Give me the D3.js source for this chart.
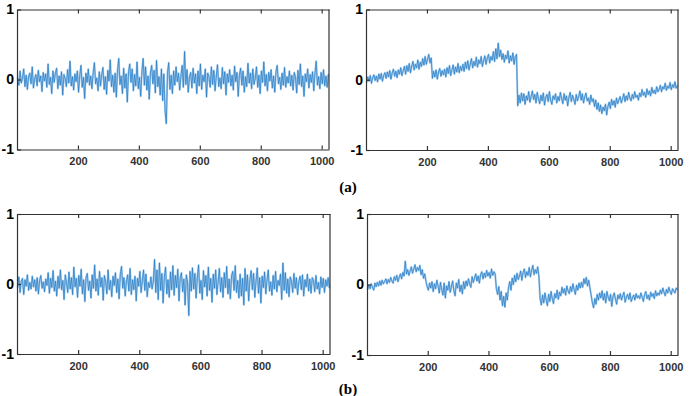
<!DOCTYPE html>
<html>
<head>
<meta charset="utf-8">
<script src="https://cdn.jsdelivr.net/npm/d3@7"></script>
<style>
  html, body { margin: 0; padding: 0; background: #fff; }
  svg { display: block; }
</style>
</head>
<body>
<div id="chart"></div>
<script>
// samples every 4 points of a 1024-long signal
const seriesA1 = [
  .03,-.08,.12,-.05,.02,.15,-.1,.06,-.14,.04,.09,-.06,.18,-.12,.01,.07,
  -.09,.13,-.03,.05,-.17,.1,-.02,.08,-.11,.22,-.07,.03,-.2,.12,-.04,.09,
  .16,-.13,.05,-.08,.11,-.22,.07,.02,-.1,.14,-.05,.26,-.09,.04,-.15,.08,
  -.03,.12,-.18,.06,.2,-.11,.03,-.27,.09,-.04,.15,-.08,.05,-.13,.1,.24,
  -.06,.02,-.16,.11,-.09,.07,.17,-.14,.04,-.21,.13,-.02,.28,-.1,.06,-.18,
  .09,-.25,.14,.3,-.07,.05,-.2,.16,-.12,.08,-.32,.11,.22,-.04,.15,-.16,
  .07,-.09,.25,-.13,.03,-.24,.12,.3,-.08,.18,-.15,.05,-.28,.1,.2,-.06,
  .13,-.19,.27,-.1,.04,-.22,.15,-.3,.08,-.45,-.63,.1,.24,-.14,.06,-.2,
  .12,-.08,.18,-.03,.09,-.15,.05,.2,-.11,.4,-.07,.14,-.18,.03,.1,-.12,
  .16,-.05,.08,-.2,.12,-.09,.22,-.14,.06,-.03,.15,-.25,.09,.04,-.11,.18,
  -.07,.13,-.16,.05,.21,-.1,.02,-.13,.17,-.06,.11,-.22,.08,-.04,.14,-.09,
  .06,-.15,.19,-.03,.1,-.24,.07,.16,-.08,.12,-.18,.04,-.1,.23,-.05,.09,
  -.13,.15,-.07,.02,.18,-.11,.06,-.2,.12,-.04,.25,-.09,.07,-.16,.1,-.02,
  .14,-.12,.05,-.18,.11,.2,-.06,.03,-.14,.09,-.08,.17,-.11,.04,-.05,.12,
  -.09,.06,-.15,.1,.03,-.19,.13,-.07,.22,-.1,.05,-.24,.08,-.03,.15,-.12,
  .07,-.04,.11,-.16,.09,.26,-.08,.04,-.13,.1,-.06,.14,-.09,.05,-.11,.08
];
const seriesA2 = [
  -.04,.04,-.02,.06,-.05,.03,.07,-.01,.05,-.03,.08,.01,.09,-.02,.06,.1,
  .02,.11,.04,.13,.01,.1,.15,.05,.12,.03,.14,.08,.17,.06,.13,.19,
  .08,.2,.12,.23,.1,.19,.26,.14,.22,.17,.28,.15,.25,.19,.3,.21,
  .33,.22,.29,.36,.24,.31,.02,.12,.04,.14,.01,.11,.16,.05,.13,.07,
  .15,.04,.17,.09,.2,.06,.14,.21,.08,.18,.11,.23,.1,.19,.13,.22,
  .12,.25,.16,.27,.14,.22,.3,.17,.26,.2,.32,.18,.28,.23,.33,.19,
  .27,.34,.22,.31,.36,.24,.33,.28,.4,.26,.44,.3,.52,.33,.42,.29,
  .37,.25,.35,.3,.41,.24,.34,.27,.38,.22,.33,.36,-.37,-.22,-.33,-.19,
  -.3,-.2,-.35,-.23,-.29,-.17,-.32,-.24,-.16,-.28,-.21,-.33,-.18,-.27,-.34,-.22,
  -.3,-.19,-.36,-.25,-.21,-.31,-.17,-.29,-.35,-.23,-.28,-.2,-.33,-.24,-.3,-.18,
  -.27,-.34,-.2,-.29,-.23,-.37,-.25,-.18,-.31,-.22,-.28,-.35,-.21,-.3,-.24,-.16,
  -.29,-.2,-.33,-.24,-.19,-.3,-.26,-.35,-.22,-.31,-.27,-.38,-.29,-.42,-.33,-.45,
  -.36,-.48,-.39,-.44,-.35,-.5,-.38,-.32,-.41,-.28,-.36,-.3,-.39,-.26,-.34,-.29,
  -.24,-.33,-.27,-.2,-.31,-.23,-.29,-.18,-.26,-.3,-.21,-.27,-.17,-.25,-.22,-.29,
  -.19,-.24,-.14,-.22,-.18,-.25,-.13,-.21,-.16,-.23,-.11,-.19,-.15,-.2,-.1,-.17,
  -.14,-.08,-.17,-.1,-.13,-.05,-.15,-.09,-.12,-.04,-.14,-.07,-.11,-.03,-.12,-.08
];
const seriesB1 = [
  -.05,.1,-.12,.04,.08,-.15,.06,-.03,.13,-.09,.02,-.07,.11,-.04,.06,-.1,
  .09,-.14,.05,.12,-.06,.03,-.11,.07,-.02,.16,-.13,.08,-.05,.19,-.1,.04,
  -.17,.11,-.06,.2,-.08,.05,-.22,.13,.02,-.12,.17,-.07,.09,-.15,.24,-.04,
  .08,-.19,.12,-.03,.21,-.14,.06,-.25,.1,.15,-.09,.04,-.2,.13,-.06,.27,
  -.1,.07,-.16,.18,-.04,.09,-.23,.12,.03,-.14,.2,-.08,.05,-.18,.11,-.02,
  .16,-.12,.07,-.21,.14,.25,-.06,.09,-.17,.04,.13,-.1,.22,-.15,.06,-.08,
  .11,-.24,.08,-.03,.18,-.12,.05,.2,-.09,.14,-.18,.02,-.05,.1,-.07,.04,
  .35,-.12,.2,-.22,.3,-.09,.15,-.27,.1,.24,-.14,.06,-.19,.17,-.08,.26,
  -.16,.12,-.05,.21,-.24,.09,.16,-.11,.07,-.3,.13,.02,-.45,.18,-.1,.23,
  -.07,.15,-.2,.1,.27,-.13,.05,-.22,.19,-.04,.12,-.17,.24,-.09,.08,-.26,
  .14,-.06,.2,-.15,.03,.22,-.11,.09,-.19,.16,-.05,.25,-.14,.07,-.21,.12,
  .18,-.09,.26,-.12,.05,-.2,.14,-.17,.08,-.3,.22,-.1,.13,-.24,.06,.19,
  -.08,.15,-.19,.04,.23,-.13,.09,-.27,.11,-.05,.17,-.14,.06,.2,-.1,.03,
  -.16,.12,-.07,.18,-.11,.05,-.02,.14,-.22,.3,-.09,.16,-.13,.07,-.18,.1,
  .04,-.12,.15,-.06,.09,-.15,.03,.11,-.08,.13,-.17,.06,-.04,.14,-.1,.07,
  -.13,.09,.05,-.11,.12,-.07,.02,-.14,.1,-.05,.08,-.12,.06,-.03,.09,-.06
];
const seriesB2 = [
  -.07,-.01,-.06,.01,-.04,-.08,.02,-.03,.03,-.02,.05,-.01,.06,.01,.04,.08,
  .01,.07,.03,.1,.05,.02,.11,.06,.13,.04,.1,.15,.08,.17,.12,.33,
  .15,.21,.13,.19,.25,.16,.22,.28,.18,.24,.2,.27,.14,.21,.09,.15,
  .05,-.03,-.08,.02,-.05,.04,-.1,.01,-.06,.06,-.02,-.12,.03,-.07,-.15,.02,
  -.19,-.02,-.08,.04,-.11,-.03,.05,-.09,-.16,.02,-.05,.07,-.1,-.01,-.13,.04,
  -.06,.05,-.02,.08,.01,-.04,.11,.03,.09,.15,.05,.12,.02,.14,.18,.08,
  .16,.1,.2,.12,.17,.09,.22,.13,.18,.15,-.06,-.14,-.03,-.22,-.1,-.3,
  -.17,-.32,-.12,-.22,-.04,.04,-.08,.09,0,.13,.04,.16,.07,.12,.19,.06,
  .17,.22,.1,.18,.13,.24,.11,.2,.27,.14,.21,.16,.25,.12,-.2,-.29,
  -.15,-.26,-.12,-.22,-.3,-.14,-.24,-.1,-.2,-.27,-.13,-.19,-.08,-.21,-.11,-.16,
  -.04,-.12,-.06,-.15,-.02,-.09,-.13,-.03,-.1,.01,-.07,-.14,-.01,-.08,.02,-.05,
  .03,-.04,.08,.01,.1,-.02,.06,-.05,-.15,-.26,-.33,-.2,-.28,-.14,-.22,-.12,
  -.19,-.09,-.22,-.13,-.26,-.1,-.18,-.23,-.14,-.31,-.17,-.12,-.21,-.28,-.15,-.2,
  -.13,-.22,-.16,-.11,-.25,-.18,-.14,-.21,-.12,-.24,-.19,-.15,-.22,-.13,-.19,-.16,
  -.2,-.12,-.18,-.24,-.14,-.1,-.2,-.15,-.22,-.11,-.17,-.13,-.2,-.09,-.16,-.12,
  -.15,-.08,-.13,-.05,-.11,-.16,-.07,-.12,-.04,-.1,-.14,-.06,-.09,-.12,-.05,-.08
];

const xTicks = [200, 400, 600, 800, 1000];
const yTicks = [-1, 0, 1];
const xDomain = [0, 1024];
const captions = ["(a)", "(b)"];

const width = 690;
const height = 396;

const svg = d3.select("#chart")
  .append("svg")
  .attr("width", width)
  .attr("height", height);

// panel boxes measured on the reference
const panels = [
  { data: seriesA1, x0: 17,  x1: 329, y0: 9.5, y1: 149.5 },
  { data: seriesA2, x0: 366, x1: 678, y0: 9.5, y1: 150 },
  { data: seriesB1, x0: 17,  x1: 330, y0: 214, y1: 354 },
  { data: seriesB2, x0: 367, x1: 678, y0: 214, y1: 355 }
];

panels.forEach(p => {
  const x = d3.scaleLinear().domain(xDomain).range([p.x0, p.x1]);
  const y = d3.scaleLinear().domain([-1, 1]).range([p.y1, p.y0]);
  const step = (xDomain[1] - xDomain[0]) / p.data.length;

  const g = svg.append("g");

  const line = d3.line()
    .x((d, i) => x(i * step + step / 2))
    .y(d => y(d));

  // light halo plus darker core, like the dense original trace
  g.append("path")
    .datum(p.data)
    .attr("d", line)
    .attr("fill", "none")
    .attr("stroke", "#a6cdee")
    .attr("stroke-width", 2)
    .attr("stroke-linejoin", "round");

  g.append("path")
    .datum(p.data)
    .attr("d", line)
    .attr("fill", "none")
    .attr("stroke", "#1f77c0")
    .attr("stroke-opacity", 0.85)
    .attr("stroke-width", 0.8)
    .attr("stroke-linejoin", "round");

  // bottom axis with labels
  const bottom = g.append("g")
    .attr("transform", `translate(0,${p.y1})`)
    .call(d3.axisBottom(x).tickValues(xTicks).tickSizeInner(-4).tickSizeOuter(0)
      .tickPadding(8).tickFormat(d => String(d)));
  bottom.selectAll("text")
    .style("font-family", "Liberation Sans, Arial, sans-serif")
    .style("font-weight", "bold")
    .style("font-size", "11px")
    .style("fill", "#333");

  // top ticks, no labels
  g.append("g")
    .attr("transform", `translate(0,${p.y0})`)
    .call(d3.axisTop(x).tickValues(xTicks).tickSizeInner(-4).tickSizeOuter(0).tickFormat(""));

  const left = g.append("g")
    .attr("transform", `translate(${p.x0},0)`)
    .call(d3.axisLeft(y).tickValues(yTicks).tickSizeInner(-4).tickSizeOuter(0)
      .tickPadding(3).tickFormat(d => String(d)));
  left.selectAll("text")
    .style("font-family", "Liberation Sans, Arial, sans-serif")
    .style("font-weight", "bold")
    .style("font-size", "14px")
    .style("fill", "#000");

  g.append("line")
    .attr("x1", p.x1).attr("x2", p.x1)
    .attr("y1", p.y0).attr("y2", p.y1);

  g.selectAll(".domain, .tick line, line")
    .attr("stroke", "#333")
    .attr("stroke-width", 1.2);
});

captions.forEach((c, i) => {
  svg.append("text")
    .attr("x", 348)
    .attr("y", i === 0 ? 192 : 394)
    .attr("text-anchor", "middle")
    .style("font-family", "Liberation Serif, Times New Roman, serif")
    .style("font-weight", "bold")
    .style("font-size", "15px")
    .text(c);
});
</script>
</body>
</html>
